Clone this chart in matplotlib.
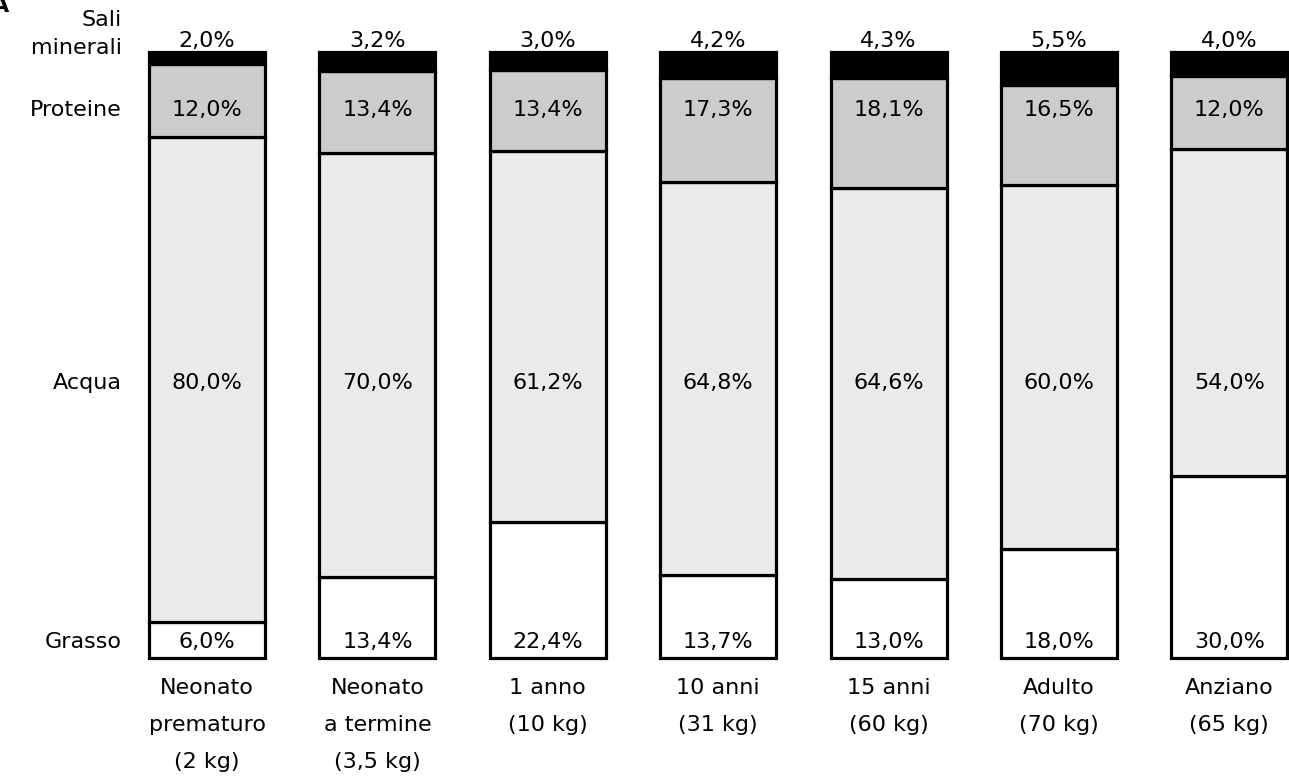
import matplotlib.pyplot as plt

plt.rcParams['font.family'] = ['DejaVu Sans']

categorie = ['Neonato\nprematuro\n(2 kg)', 'Neonato\na termine\n(3,5 kg)', '1 anno\n(10 kg)',
             '10 anni\n(31 kg)', '15 anni\n(60 kg)', 'Adulto\n(70 kg)', 'Anziano\n(65 kg)']
grasso = [6.0, 13.4, 22.4, 13.7, 13.0, 18.0, 30.0]
acqua = [80.0, 70.0, 61.2, 64.8, 64.6, 60.0, 54.0]
proteine = [12.0, 13.4, 13.4, 17.3, 18.1, 16.5, 12.0]
sali = [2.0, 3.2, 3.0, 4.2, 4.3, 5.5, 4.0]

componenti = ['Grasso', 'Acqua', 'Proteine', 'Sali\nminerali']
serie = [grasso, acqua, proteine, sali]
colori = ['white', '#eaeaea', '#cccccc', 'black']
# fixed heights of the value rows (in % units)
righe_y = [2.7, 45.4, 90.4, 101.8]
nomi_y = [2.7, 45.4, 90.4, 103.0]

fig = plt.figure(figsize=(12.89, 7.84), dpi=100)
ax = fig.add_axes([0, 0, 1, 1])
ax.set_xlim(-1.215, 6.35)
ax.set_ylim(-20.8, 108.6)
ax.axis('off')

x = list(range(len(categorie)))
base = [0] * len(categorie)
for valori, colore in zip(serie, colori):
    ax.bar(x, valori, bottom=base, width=0.68, color=colore,
           edgecolor='black', linewidth=2.3)
    base = [b + v for b, v in zip(base, valori)]

fmt = lambda v: f'{v:.1f}'.replace('.', ',') + '%'
for valori, y in zip(serie, righe_y):
    for xi, v in zip(x, valori):
        ax.text(xi, y, fmt(v), ha='center', va='center', fontsize=16)

for nome, y in zip(componenti, nomi_y):
    ax.text(-0.5, y, nome, ha='right', va='center', fontsize=16,
            multialignment='right', linespacing=1.55)

for xi, cat in zip(x, categorie):
    ax.text(xi, -3.3, cat, ha='center', va='top', fontsize=16, linespacing=2.05)

fig.text(-0.006, 1.005, 'A', ha='left', va='top', fontsize=16, fontweight='bold')

fig.savefig('out.png', dpi=100)
